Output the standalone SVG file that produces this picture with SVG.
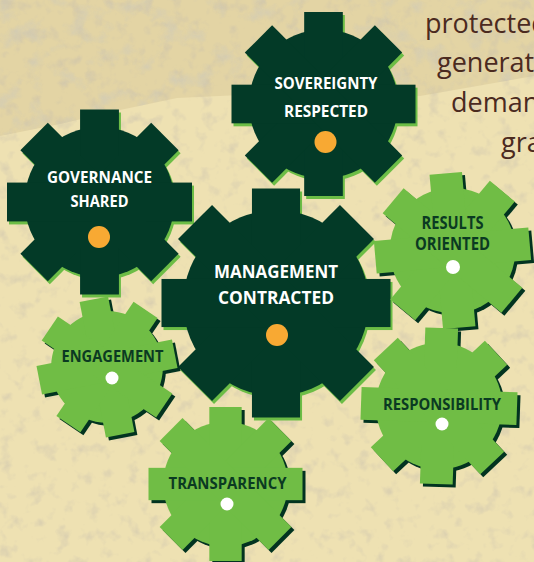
<svg xmlns="http://www.w3.org/2000/svg" xmlns:xlink="http://www.w3.org/1999/xlink" width="534" height="562" viewBox="0 0 534 562">
  <style>
    .dark { fill: #033a27; }
    .light { fill: #70bd45; }
    .sh-light { fill: #6cbd46; }
    .sh-dark { fill: #023320; }
    .lbl-w { font-family: "Open Sans", "Liberation Sans", sans-serif; font-weight: 700; fill: #ffffff; text-anchor: middle; }
    .lbl-d { font-family: "Open Sans", "Liberation Sans", sans-serif; font-weight: 700; fill: #0b3a22; text-anchor: middle; }
    .orange { fill: #f8a933; }
    .white { fill: #ffffff; }
    .side { font-family: "Open Sans", "Liberation Sans", sans-serif; font-size: 27px; fill: #4b2a1f; }
  </style>
  <defs>
    <g id="gearShape">
      <circle r="81"/>
      <rect x="-21" y="-100" width="42" height="200"/>
      <rect x="-21" y="-100" width="42" height="200" transform="rotate(45)"/>
      <rect x="-21" y="-100" width="42" height="200" transform="rotate(90)"/>
      <rect x="-21" y="-100" width="42" height="200" transform="rotate(135)"/>
    </g>
    <filter id="grain" x="0" y="0" width="100%" height="100%">
      <feTurbulence type="fractalNoise" baseFrequency="0.07" numOctaves="3" seed="5"/>
      <feColorMatrix type="matrix" values="0 0 0 0 0.55  0 0 0 0 0.5  0 0 0 0 0.42  2.6 0 0 0 -1.4"/>
    </filter>
    <filter id="grain2" x="0" y="0" width="100%" height="100%">
      <feTurbulence type="fractalNoise" baseFrequency="0.045" numOctaves="4" seed="11"/>
      <feColorMatrix type="matrix" values="0 0 0 0 0.6  0 0 0 0 0.58  0 0 0 0 0.5  3 0 0 0 -1.55"/>
    </filter>
    <clipPath id="topArea">
      <path d="M0,0 L534,0 L534,76 L420,96 L300,92 L177,98 L120,110 L60,124 L0,136 Z"/>
    </clipPath>
  </defs>

  <!-- background -->
  <rect width="534" height="562" fill="#e3d4a4"/>
  <path d="M0,136 L60,124 L120,110 L177,98 L300,92 L420,96 L534,76 L534,562 L0,562 Z" fill="#eee1b2"/>
  <rect width="534" height="562" filter="url(#grain)" opacity="0.5"/>
  <g clip-path="url(#topArea)">
    <rect width="534" height="140" filter="url(#grain2)" opacity="0.55"/>
  </g>

  <!-- side text -->
  <g id="side-text">
    <text class="side" x="425" y="33">protected</text>
    <text class="side" x="437" y="72">generat</text>
    <text class="side" x="451" y="112">deman</text>
    <text class="side" x="501" y="152">gra</text>
  </g>

  <g id="connectors"></g>

  <g id="gear-sovereignty" transform="translate(323.5,104)">
    <use xlink:href="#gearShape" class="sh-light" transform="translate(2,3) scale(0.92)"/>
    <use xlink:href="#gearShape" class="dark" transform="scale(0.92)"/>
    <text class="lbl-w" x="2.5" y="-15" font-size="16" textLength="103" lengthAdjust="spacingAndGlyphs">SOVEREIGNTY</text>
    <text class="lbl-w" x="2.5" y="13" font-size="16" textLength="84" lengthAdjust="spacingAndGlyphs">RESPECTED</text>
    <circle class="orange" cx="2" cy="38" r="11"/>
  </g>

  <g id="gear-governance" transform="translate(99.5,202)">
    <use xlink:href="#gearShape" class="sh-light" transform="translate(2,3) scale(0.925)"/>
    <use xlink:href="#gearShape" class="dark" transform="scale(0.925)"/>
    <text class="lbl-w" x="0" y="-19" font-size="16" textLength="105" lengthAdjust="spacingAndGlyphs">GOVERNANCE</text>
    <text class="lbl-w" x="0" y="5" font-size="16" textLength="58" lengthAdjust="spacingAndGlyphs">SHARED</text>
    <circle class="orange" cx="-0.5" cy="35" r="11"/>
  </g>

  <g id="gear-management" transform="translate(276,303)">
    <use xlink:href="#gearShape" class="sh-light" transform="translate(2,3) scale(1.145)"/>
    <use xlink:href="#gearShape" class="dark" transform="scale(1.145)"/>
    <text class="lbl-w" x="0" y="-25" font-size="18.5" textLength="124" lengthAdjust="spacingAndGlyphs">MANAGEMENT</text>
    <text class="lbl-w" x="0" y="1" font-size="18.5" textLength="116" lengthAdjust="spacingAndGlyphs">CONTRACTED</text>
    <circle class="orange" cx="1" cy="32" r="11"/>
  </g>

  <g id="gear-results" transform="translate(452.5,250.5)">
    <use xlink:href="#gearShape" class="sh-dark" transform="translate(3,3) rotate(-5) scale(0.775)"/>
    <use xlink:href="#gearShape" class="light" transform="rotate(-5) scale(0.775)"/>
    <text class="lbl-d" x="0" y="-21.5" font-size="17" textLength="62" lengthAdjust="spacingAndGlyphs">RESULTS</text>
    <text class="lbl-d" x="0" y="-0.5" font-size="17" textLength="75" lengthAdjust="spacingAndGlyphs">ORIENTED</text>
    <circle class="white" cx="0.5" cy="16.5" r="7"/>
  </g>

  <g id="gear-engagement" transform="translate(107,367)">
    <use xlink:href="#gearShape" class="sh-dark" transform="translate(3,3) rotate(-11) scale(0.69)"/>
    <use xlink:href="#gearShape" class="light" transform="rotate(-11) scale(0.69)"/>
    <text class="lbl-d" x="5.5" y="-5" font-size="15.5" textLength="102" lengthAdjust="spacingAndGlyphs">ENGAGEMENT</text>
    <circle class="white" cx="5" cy="11" r="6.5"/>
  </g>

  <g id="gear-responsibility" transform="translate(439,406)">
    <use xlink:href="#gearShape" class="sh-dark" transform="translate(3,3) rotate(2) scale(0.78)"/>
    <use xlink:href="#gearShape" class="light" transform="rotate(2) scale(0.78)"/>
    <text class="lbl-d" x="3" y="4" font-size="16.5" textLength="118" lengthAdjust="spacingAndGlyphs">RESPONSIBILITY</text>
    <circle class="white" cx="3" cy="18" r="6.5"/>
  </g>

  <g id="gear-transparency" transform="translate(225.5,484)">
    <use xlink:href="#gearShape" class="sh-dark" transform="translate(3,3) scale(0.77)"/>
    <use xlink:href="#gearShape" class="light" transform="scale(0.77)"/>
    <text class="lbl-d" x="2" y="5" font-size="16.5" textLength="118" lengthAdjust="spacingAndGlyphs">TRANSPARENCY</text>
    <circle class="white" cx="1.5" cy="20" r="6.5"/>
  </g>
</svg>
